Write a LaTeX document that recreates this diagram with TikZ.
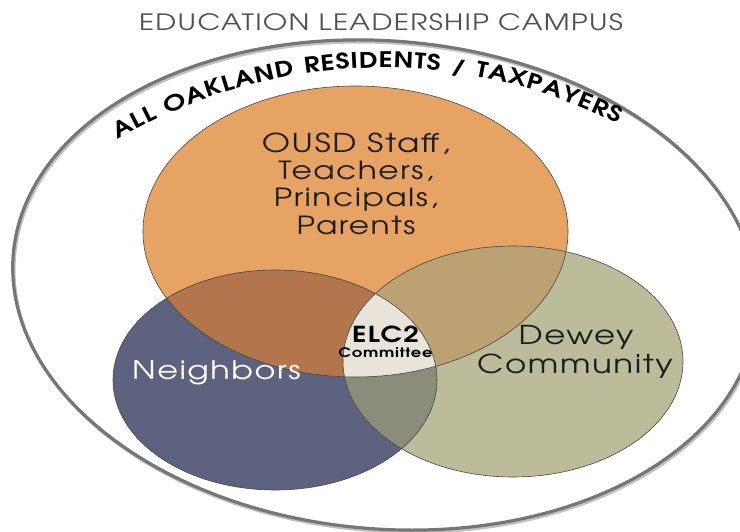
\documentclass[tikz,border=0pt]{standalone}
\usepackage{fontspec}
\setmainfont{texgyreadventor}[Extension=.otf, UprightFont=*-regular, BoldFont=*-bold, FakeStretch=1.25, LetterSpace=6]
\usetikzlibrary{decorations.text}
\definecolor{StaffClr}{RGB}{230,163,99}
\definecolor{NeighborClr}{RGB}{93,99,126}
\definecolor{DeweyClr}{RGB}{188,187,154}
\definecolor{StaffNeighborClr}{RGB}{179,118,76}
\definecolor{StaffDeweyClr}{RGB}{188,162,114}
\definecolor{NeighborDeweyClr}{RGB}{138,140,124}
\definecolor{ElcClr}{RGB}{232,228,218}
\definecolor{RingClr}{RGB}{118,118,118}
\definecolor{TitleClr}{RGB}{80,80,80}
\definecolor{EdgeClr}{RGB}{70,70,70}
\definecolor{TextClr}{RGB}{30,30,30}

\tikzset{
  staff shape/.style={insert path={(355.5,299.5) ellipse [x radius=212.5, y radius=145.5]}},
  neighbor shape/.style={insert path={(275,151) ellipse [x radius=162, y radius=110]}},
  dewey shape/.style={insert path={(513,169.5) ellipse [x radius=170, y radius=115.5]}},
  big text/.style={font=\fontsize{25}{25}\selectfont, text=TextClr, anchor=base, inner sep=0pt}
}

\begin{document}
\begin{tikzpicture}[x=1pt,y=1pt]
\useasboundingbox (0,0) rectangle (740,531);

\begin{scope}[shift={(385,246)},rotate=-4.7]
\draw[RingClr!45,line width=3] (1.5,-2) ellipse [x radius=373, y radius=244];
\draw[RingClr,line width=3.2] (0,0) ellipse [x radius=373, y radius=244];
\end{scope}

\coordinate (ringmid) at (382.6,-58.2);
\path[decorate,decoration={text along path,text align=fit to path,
  text={|\fontsize{21.5}{21.5}\selectfont\bfseries|ALL OAKLAND RESIDENTS / TAXPAYERS}}]
  (ringmid) ++(120.5:521.4) arc [start angle=120.5, end angle=63.2, radius=521.4];

\fill[StaffClr,staff shape];
\fill[NeighborClr,neighbor shape];
\fill[DeweyClr,dewey shape];
\begin{scope}
\clip[staff shape];
\fill[StaffNeighborClr,neighbor shape];
\fill[StaffDeweyClr,dewey shape];
\end{scope}
\begin{scope}
\clip[neighbor shape];
\fill[NeighborDeweyClr,dewey shape];
\end{scope}
\begin{scope}
\clip[staff shape];
\clip[neighbor shape];
\fill[ElcClr,dewey shape];
\end{scope}
\draw[EdgeClr,line width=0.6,staff shape];
\draw[EdgeClr,line width=0.6,neighbor shape];
\draw[EdgeClr,line width=0.6,dewey shape];

\node[big text,font=\fontsize{22.5}{22.5}\selectfont,text=TitleClr] (title) at (381,500) {EDUCATION LEADERSHIP CAMPUS};

\node[big text,font=\fontsize{26}{26}\selectfont] (staffa) at (356,378) {OUSD Staff,};
\node[big text] (staffb) at (356,351) {Teachers,};
\node[big text] (staffc) at (356,324) {Principals,};
\node[big text] (staffd) at (356,296) {Parents};

\node[big text,font=\fontsize{25.5}{25.5}\selectfont,text=white] (neighbors) at (216.5,151) {Neighbors};
\node[big text,font=\fontsize{26}{26}\selectfont] (deweya) at (576,186) {Dewey};
\node[big text,font=\fontsize{26}{26}\selectfont] (deweyb) at (575,157) {Community};

\node[big text,font=\fontsize{22}{22}\selectfont\bfseries,text=black] (elc) at (385.5,188) {ELC2};
\node[big text,font=\fontsize{13}{13}\selectfont\bfseries,text=black] (committee) at (385.5,173) {Committee};

\end{tikzpicture}
\end{document}
